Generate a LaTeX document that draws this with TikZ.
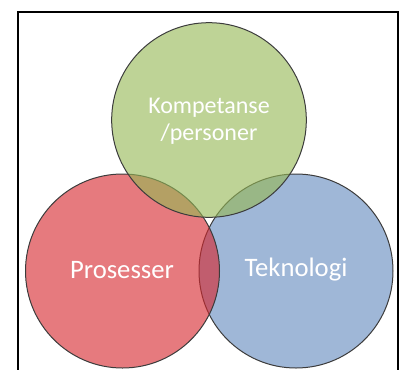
\documentclass[tikz,border=0pt]{standalone}
\usepackage{fontspec}
\setmainfont{Carlito}
\definecolor{vennred}{RGB}{214,40,46}
\definecolor{vennblue}{RGB}{100,138,190}
\definecolor{venngreen}{RGB}{150,184,86}
\definecolor{vennline}{RGB}{60,60,60}
\tikzset{
  venn/.style={draw=vennline, line width=0.75pt, fill opacity=0.62},
  vennlabel/.style={text=white, align=center, inner sep=0pt}
}
\begin{document}
\begin{tikzpicture}[x=0.75pt, y=-0.75pt]
    \useasboundingbox (0,0) rectangle (404,369);
    \clip (0,0) rectangle (404,369);
    % frame, open at the bottom
    \draw[line width=1.5pt] (18,380) -- (18,12) -- (397.5,12) -- (397.5,380);
    % the three circles
    \draw[venn, fill=vennblue] (296,271) circle (72.75pt);
    \draw[venn, fill=vennred] (122.5,271) circle (72.75pt);
    \draw[venn, fill=venngreen] (209,120) circle (73pt);
    % labels
    \node[vennlabel, font=\fontsize{18}{20.5}\selectfont] (kompetanse) at (209,121) {Kompetanse\\/personer};
    \node[vennlabel, font=\fontsize{20}{24}\selectfont] (prosesser) at (122,270) {Prosesser};
    \node[vennlabel, font=\fontsize{20}{24}\selectfont] (teknologi) at (296,270) {Teknologi};
\end{tikzpicture}
\end{document}
